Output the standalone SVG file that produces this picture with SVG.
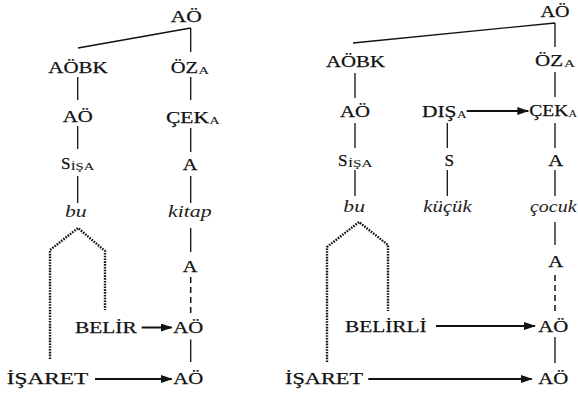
<svg xmlns="http://www.w3.org/2000/svg" width="578" height="394" viewBox="0 0 578 394">
<defs>
<style>
.t{font-family:"Liberation Serif","DejaVu Serif","Times New Roman",serif;font-size:17px;fill:#111;stroke:#111;stroke-width:0.25}
.s{font-family:"Liberation Serif","DejaVu Serif","Times New Roman",serif;font-size:11px;fill:#111}
.i{font-family:"Liberation Serif","DejaVu Serif","Times New Roman",serif;font-size:17px;font-style:italic;fill:#222}
.ln{stroke:#111;stroke-width:1.3;fill:none}
.ds{stroke:#111;stroke-width:1.5;fill:none;stroke-dasharray:6 4}
.dt{stroke:#111;stroke-width:2.4;fill:none;stroke-dasharray:1.6 1.2}
.ar{stroke:#111;stroke-width:2;fill:none;marker-end:url(#ah)}
</style>
<marker id="ah" markerWidth="12" markerHeight="8" refX="11" refY="4" orient="auto" markerUnits="userSpaceOnUse">
<path d="M0,0 L12,4 L0,8 Z" fill="#111"/>
</marker>
</defs>
<rect width="578" height="394" fill="#fff"/>

<g id="connectors">
<path class="ln" d="M190.7,28 L78,48 M190.7,28 V52"/>
<path class="ln" d="M77.7,77 V100 M77.7,126 V149 M77.7,176 V203"/>
<path class="ln" d="M190.7,77 V100 M190.7,128 V152 M190.7,176 V203 M190.7,228 V252 M190.7,339.5 V362"/>
<path class="ds" d="M190.7,277 V315"/>
<path class="dt" d="M50,359 V250 L78,228 L105,251 V310"/>
<path class="ar" d="M141.7,327.5 H171.7"/>
<path class="ar" d="M95,379 H171.7"/>
<path class="ln" d="M555,23 L353,43 M555,23 V47"/>
<path class="ln" d="M355,73 V98 M355,123 V148 M355,170 V196"/>
<path class="ln" d="M447.3,123 V148 M447.3,170 V196"/>
<path class="ln" d="M555,72 V97 M555,123 V148 M555,170 V196 M555,222 V245 M555,337 V363"/>
<path class="ds" d="M555,275 V313"/>
<path class="dt" d="M327,362 V247 L359,222 L388,245 V311"/>
<path class="ar" d="M466.7,111 H528.3"/>
<path class="ar" d="M436,326 H535"/>
<path class="ar" d="M368.3,379 H531.7"/>
</g>

<g id="L-root"><text class="t" x="170.7" y="22" textLength="31" lengthAdjust="spacingAndGlyphs">AÖ</text></g>
<g id="L-aobk"><text class="t" x="48.3" y="73" textLength="59.4" lengthAdjust="spacingAndGlyphs">AÖBK</text></g>
<g id="L-oza"><text class="t" x="170.7" y="73" textLength="27.3" lengthAdjust="spacingAndGlyphs">ÖZ</text><text class="s" x="198.5" y="74" textLength="10.5" lengthAdjust="spacingAndGlyphs">A</text></g>
<g id="L-ao1"><text class="t" x="62.7" y="122" textLength="30" lengthAdjust="spacingAndGlyphs">AÖ</text></g>
<g id="L-ceka"><text class="t" x="166" y="123" textLength="43" lengthAdjust="spacingAndGlyphs">ÇEK</text><text class="s" x="209.5" y="124" textLength="10" lengthAdjust="spacingAndGlyphs">A</text></g>
<g id="L-sisa"><text class="t" x="61" y="169" textLength="9.5" lengthAdjust="spacingAndGlyphs">S</text><text class="s" x="70.7" y="170" textLength="23.5" lengthAdjust="spacingAndGlyphs">İŞA</text></g>
<g id="L-a1"><text class="t" x="182.7" y="170" textLength="14.6" lengthAdjust="spacingAndGlyphs">A</text></g>
<g id="L-bu"><text class="i" x="65" y="217" textLength="21.7" lengthAdjust="spacingAndGlyphs">bu</text></g>
<g id="L-kitap"><text class="i" x="168" y="217" textLength="43.7" lengthAdjust="spacingAndGlyphs">kitap</text></g>
<g id="L-a2"><text class="t" x="182.7" y="272" textLength="14.6" lengthAdjust="spacingAndGlyphs">A</text></g>
<g id="L-belir"><text class="t" x="75" y="333" textLength="61.7" lengthAdjust="spacingAndGlyphs">BELİR</text></g>
<g id="L-ao2"><text class="t" x="173.3" y="333" textLength="30" lengthAdjust="spacingAndGlyphs">AÖ</text></g>
<g id="L-isaret"><text class="t" x="6.7" y="384" textLength="81.6" lengthAdjust="spacingAndGlyphs">İŞARET</text></g>
<g id="L-ao3"><text class="t" x="173.3" y="384" textLength="30" lengthAdjust="spacingAndGlyphs">AÖ</text></g>

<g id="R-root"><text class="t" x="540.5" y="16.5" textLength="29" lengthAdjust="spacingAndGlyphs">AÖ</text></g>
<g id="R-aobk"><text class="t" x="326" y="67" textLength="59" lengthAdjust="spacingAndGlyphs">AÖBK</text></g>
<g id="R-oza"><text class="t" x="535" y="66" textLength="28" lengthAdjust="spacingAndGlyphs">ÖZ</text><text class="s" x="564" y="67" textLength="11" lengthAdjust="spacingAndGlyphs">A</text></g>
<g id="R-ao1"><text class="t" x="340" y="117" textLength="30" lengthAdjust="spacingAndGlyphs">AÖ</text></g>
<g id="R-disa"><text class="t" x="422" y="117" textLength="34.5" lengthAdjust="spacingAndGlyphs">DIŞ</text><text class="s" x="457" y="118" textLength="9.5" lengthAdjust="spacingAndGlyphs">A</text></g>
<g id="R-ceka"><text class="t" x="529.3" y="116" textLength="39" lengthAdjust="spacingAndGlyphs">ÇEK</text><text class="s" x="568.5" y="117" textLength="8.5" lengthAdjust="spacingAndGlyphs">A</text></g>
<g id="R-sisa"><text class="t" x="338" y="166" textLength="9.5" lengthAdjust="spacingAndGlyphs">S</text><text class="s" x="348" y="167" textLength="24.5" lengthAdjust="spacingAndGlyphs">İŞA</text></g>
<g id="R-s"><text class="t" x="444.5" y="166" textLength="9.5" lengthAdjust="spacingAndGlyphs">S</text></g>
<g id="R-a1"><text class="t" x="548.3" y="166" textLength="15" lengthAdjust="spacingAndGlyphs">A</text></g>
<g id="R-bu"><text class="i" x="343.3" y="212" textLength="21.7" lengthAdjust="spacingAndGlyphs">bu</text></g>
<g id="R-kucuk"><text class="i" x="423.3" y="212" textLength="48.4" lengthAdjust="spacingAndGlyphs">küçük</text></g>
<g id="R-cocuk"><text class="i" x="530" y="212" textLength="46.5" lengthAdjust="spacingAndGlyphs">çocuk</text></g>
<g id="R-a2"><text class="t" x="548.3" y="267" textLength="15" lengthAdjust="spacingAndGlyphs">A</text></g>
<g id="R-belirli"><text class="t" x="345" y="332" textLength="81.7" lengthAdjust="spacingAndGlyphs">BELİRLİ</text></g>
<g id="R-ao2"><text class="t" x="538.3" y="332" textLength="30" lengthAdjust="spacingAndGlyphs">AÖ</text></g>
<g id="R-isaret"><text class="t" x="285" y="384" textLength="78" lengthAdjust="spacingAndGlyphs">İŞARET</text></g>
<g id="R-ao3"><text class="t" x="538.3" y="384" textLength="30" lengthAdjust="spacingAndGlyphs">AÖ</text></g>
</svg>
